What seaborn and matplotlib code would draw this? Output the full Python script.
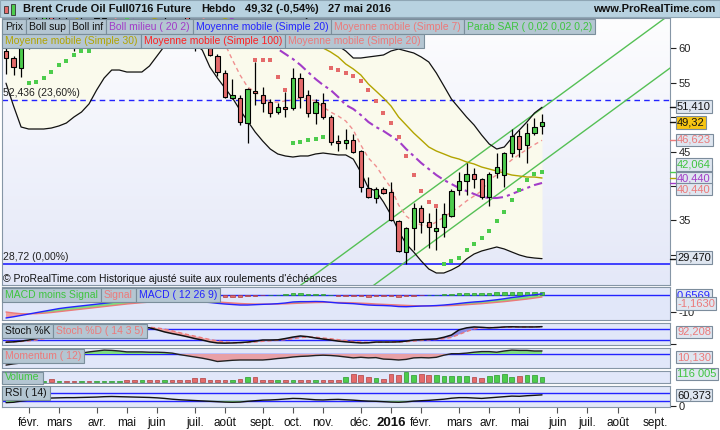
import numpy as np
import pandas as pd
import matplotlib
matplotlib.use('Agg')
import matplotlib.pyplot as plt
import matplotlib.transforms as mtransforms
import seaborn as sns
from matplotlib.patches import Rectangle
from matplotlib.colors import LinearSegmentedColormap

# ---- data (weekly bars) ----
first_week = '2015-01-12'

opens = [59.60, 58.55, 57.06, 60.20, 63.80, 62.50, 65.20, 63.00, 63.90, 61.50,
         61.00, 62.70, 61.40, 64.30, 67.00, 68.30, 71.30, 70.20, 68.80, 70.60,
         67.00, 65.80, 67.20, 66.40, 65.00, 62.80, 62.00, 60.00, 58.84, 56.38,
         52.75, 52.75, 49.13, 53.70, 53.19, 52.17, 50.72, 51.45, 51.30, 55.65,
         53.19, 50.58, 52.03, 50.00, 46.45, 46.23, 46.67, 45.07, 39.71, 38.26,
         39.57, 39.13, 34.93, 30.43, 33.91, 36.81, 34.78, 33.48, 34.06, 35.65,
         39.42, 40.72, 41.74, 41.01, 38.41, 41.88, 41.59, 44.78, 47.25, 45.94,
         47.68, 48.75]
highs = [60.60, 58.84, 61.20, 64.50, 66.00, 66.50, 67.00, 65.00, 64.50, 62.80,
         64.50, 63.50, 64.80, 68.00, 69.00, 72.00, 72.50, 71.00, 71.20, 70.90,
         68.00, 67.80, 68.50, 67.20, 66.00, 64.00, 63.50, 61.20, 59.10, 56.81,
         55.51, 53.19, 54.20, 57.97, 54.35, 52.60, 52.03, 53.62, 57.10, 56.38,
         53.91, 52.61, 53.48, 50.30, 47.39, 48.26, 47.54, 45.20, 41.30, 39.86,
         39.86, 40.58, 35.00, 34.00, 37.54, 37.25, 36.09, 36.81, 37.54, 39.57,
         42.03, 43.33, 42.61, 41.20, 42.03, 44.78, 44.93, 48.26, 48.12, 49.13,
         49.86, 50.43]
lows = [56.30, 56.10, 55.80, 59.90, 61.80, 61.50, 62.00, 61.20, 60.80, 59.50,
        60.50, 60.60, 61.00, 63.50, 66.00, 67.80, 69.50, 67.50, 67.80, 66.50,
        64.80, 64.20, 65.80, 64.50, 62.00, 59.60, 60.30, 58.90, 55.94, 52.75,
        52.61, 48.84, 46.23, 51.74, 50.72, 50.00, 50.43, 50.00, 51.01, 51.30,
        50.00, 48.99, 49.71, 45.94, 45.07, 45.36, 44.78, 39.13, 38.26, 37.54,
        38.80, 34.90, 30.43, 28.72, 30.72, 33.19, 31.01, 30.72, 32.61, 35.50,
        38.70, 38.70, 39.71, 38.12, 37.10, 41.16, 39.86, 44.20, 44.20, 43.33,
        47.39, 47.54]
closes = [58.50, 57.25, 59.96, 63.80, 62.50, 65.20, 63.00, 63.90, 61.50, 61.00,
          62.70, 61.40, 64.30, 67.00, 68.30, 71.30, 70.20, 68.80, 70.60, 67.00,
          65.80, 67.20, 66.40, 65.00, 62.80, 62.00, 61.30, 59.00, 56.52, 52.90,
          53.19, 49.28, 54.06, 53.55, 52.03, 50.58, 51.45, 51.16, 55.65, 52.90,
          50.58, 52.17, 50.00, 46.38, 46.30, 46.67, 44.93, 39.86, 38.41, 39.57,
          38.99, 35.07, 30.58, 33.91, 36.81, 34.78, 34.06, 33.91, 35.94, 39.28,
          40.72, 41.74, 41.01, 38.41, 41.74, 42.75, 44.78, 47.25, 45.36, 47.68,
          48.55, 49.32]

boll_upper = [78.0, 76.0, 74.0, 72.0, 70.0, 69.0, 68.5, 68.0, 67.5, 67.0,
              66.8, 66.5, 66.8, 68.0, 70.0, 72.5, 74.0, 74.5, 75.0, 75.0,
              74.5, 74.0, 73.5, 73.0, 72.5, 72.5, 72.5, 73.0, 74.0, 75.5,
              76.5, 77.5, 77.5, 77.0, 76.0, 74.5, 72.5, 70.0, 67.5, 65.5,
              64.0, 62.8, 61.8, 61.0, 60.3, 59.57, 58.55, 58.55, 58.70, 58.84,
              58.99, 59.57, 59.86, 59.57, 59.28, 58.70, 57.97, 56.38, 54.50, 52.60,
              51.30, 50.00, 48.84, 47.39, 46.09, 45.36, 45.65, 46.96, 48.12, 49.28,
              50.58, 51.41]
boll_lower = [54.90, 51.60, 48.55, 48.26, 48.26, 48.26, 48.40, 48.70, 49.13, 50.00,
              50.72, 51.90, 53.90, 55.65, 56.81, 56.81, 56.52, 56.52, 56.52, 57.39,
              58.84, 60.30, 61.20, 61.80, 61.50, 60.60, 59.70, 57.25, 55.65, 54.20,
              52.75, 51.00, 49.42, 47.83, 46.52, 45.36, 44.64, 44.35, 44.20, 44.35,
              44.35, 44.64, 44.78, 44.64, 44.50, 44.50, 43.90, 42.00, 39.71, 39.28,
              37.68, 35.80, 33.48, 31.60, 30.43, 29.13, 27.97, 27.39, 27.39, 27.83,
              28.41, 29.42, 30.14, 30.58, 30.87, 31.16, 30.87, 30.43, 30.00, 29.70,
              29.56, 29.47]
boll_middle = [72.0, 70.5, 69.0, 67.5, 66.5, 65.5, 64.5, 63.5, 62.8, 62.2,
               61.8, 61.5, 61.5, 61.8, 62.2, 62.8, 63.5, 64.2, 64.8, 65.3,
               65.8, 66.2, 66.6, 66.9, 67.1, 67.0, 66.8, 66.3, 65.7, 65.0,
               64.2, 63.4, 62.6, 61.8, 61.1, 60.5, 59.86, 59.13, 58.41, 57.54,
               56.52, 55.51, 54.64, 53.91, 52.90, 51.74, 51.16, 50.29, 49.28, 48.55,
               47.97, 47.25, 46.52, 45.36, 44.35, 43.33, 42.46, 41.59, 40.87, 40.29,
               39.71, 39.28, 38.84, 38.41, 38.26, 38.26, 38.41, 38.84, 39.28, 39.71,
               40.14, 40.44]
sma7 = [66.0, 63.5, 61.5, 61.0, 60.8, 61.2, 62.0, 62.8, 63.0, 62.8,
        62.6, 62.2, 62.1, 62.6, 63.5, 65.0, 66.5, 67.8, 68.7, 69.3,
        69.0, 68.5, 68.0, 67.0, 66.4, 65.4, 64.5, 63.2, 61.8, 60.6,
        58.26, 56.09, 54.35, 53.62, 52.90, 52.17, 52.17, 52.32, 52.46, 52.75,
        52.61, 52.32, 51.45, 50.72, 50.14, 49.42, 48.12, 45.94, 44.06, 42.90,
        41.30, 39.71, 37.25, 35.65, 34.78, 34.35, 34.20, 34.78, 35.50, 36.23,
        36.96, 37.83, 38.55, 39.28, 40.90, 41.60, 42.90, 43.80, 44.60, 45.30,
        46.00, 46.623]
sma30 = [78.0, 76.0, 74.0, 72.0, 70.5, 69.0, 67.8, 66.6, 65.5, 64.6,
         63.8, 63.2, 62.8, 62.5, 62.4, 62.5, 62.8, 63.2, 63.6, 64.0,
         64.4, 64.7, 65.0, 65.2, 65.3, 65.3, 65.2, 65.0, 64.7, 64.3,
         63.8, 63.3, 62.8, 62.3, 61.9, 61.5, 61.2, 61.0, 60.8, 60.6,
         60.4, 60.2, 60.0, 59.42, 58.70, 57.68, 56.96, 56.09, 54.78, 53.77,
         52.75, 51.59, 50.00, 48.84, 47.68, 46.67, 45.65, 45.07, 44.64, 44.20,
         43.91, 43.48, 43.19, 42.75, 42.46, 42.17, 41.88, 41.59, 41.45, 41.30,
         41.30, 41.16]
sar = [62.5, 62.0, 61.6, 54.93, 55.07, 55.65, 56.52, 57.54, 58.12, 58.99,
       59.57, 59.57, 60.5, 61.0, 62.0, 63.2, 64.5, 65.6, 66.4, 72.5,
       72.4, 72.2, 72.0, 71.6, 71.2, 70.6, 69.6, 68.4, 66.8, 65.0,
       63.3, 61.8, 60.4, 58.26, 58.26, 58.26, 55.8, 53.91, 46.23, 46.38,
       46.67, 46.8, 47.1, 57.1, 56.8, 56.4, 55.9, 55.2, 53.9, 52.3,
       50.58, 49.13, 47.1, 44.35, 41.6, 39.28, 37.68, 37.1, 28.72, 29.2,
       29.6, 30.7, 31.6, 32.5, 33.5, 34.9, 36.2, 38.0, 39.4, 40.8,
       41.8, 42.064]

fib_0 = 28.72
fib_236 = 52.436
channel_up_weeks = [38, 89]
channel_up = [24.80, 65.71]
channel_low_weeks = [48, 89]
channel_low = [25.05, 57.93]

macd = [-13.5, -12.8, -12.0, -11.2, -10.4, -9.6, -8.8, -8.0, -7.4, -6.9,
        -6.4, -5.9, -5.4, -4.9, -4.4, -3.9, -3.5, -3.2, -3.0, -2.9,
        -3.0, -3.1, -3.3, -3.5, -3.7, -3.9, -4.1, -4.4, -4.9, -5.3,
        -5.6, -5.9, -5.9, -5.7, -5.5, -5.35, -5.1, -4.7, -4.1, -3.9,
        -3.9, -3.8, -3.9, -4.3, -4.7, -4.9, -5.1, -5.5, -5.9, -6.1,
        -6.2, -6.4, -6.8, -6.9, -6.7, -6.5, -6.4, -6.2, -5.9, -5.5,
        -5.0, -4.5, -4.1, -3.8, -3.3, -2.8, -2.2, -1.5, -1.0, -0.4,
        0.1, 0.6569]
macd_signal = [-10.0, -10.6, -11.0, -11.1, -11.0, -10.7, -10.3, -9.8, -9.3, -8.8,
               -8.3, -7.8, -7.3, -6.8, -6.3, -5.8, -5.3, -4.9, -4.5, -4.2,
               -3.9, -3.7, -3.6, -3.5, -3.5, -3.6, -3.7, -3.9, -4.1, -4.4,
               -4.7, -5.0, -5.2, -5.3, -5.35, -5.35, -5.3, -5.2, -5.0, -4.8,
               -4.6, -4.45, -4.35, -4.35, -4.4, -4.5, -4.6, -4.8, -5.0, -5.3,
               -5.5, -5.7, -5.9, -6.1, -6.3, -6.4, -6.4, -6.4, -6.3, -6.2,
               -6.0, -5.7, -5.4, -5.1, -4.7, -4.3, -3.9, -3.4, -2.9, -2.4,
               -1.8, -1.163]
stoch_k = [8, 10, 14, 20, 28, 38, 46, 52, 56, 58,
           62, 66, 70, 76, 82, 86, 88, 90, 90, 86,
           76, 64, 55, 47, 38, 28, 20, 10, 4, 3,
           4, 6, 9, 14, 20, 20, 21, 28, 36, 42,
           38, 31, 25, 20, 14, 10, 7, 4, 5, 9,
           9, 9, 10, 14, 20, 22, 24, 26, 35, 47,
           75, 86, 91, 89, 86, 88, 91, 92, 91, 91,
           91, 92.5]
stoch_d = [12, 11, 12, 15, 20, 27, 35, 42, 48, 53,
           57, 60, 64, 68, 73, 78, 82, 86, 88, 89,
           86, 79, 70, 60, 50, 41, 32, 23, 15, 9,
           6, 5, 6, 9, 13, 16, 19, 22, 27, 33,
           36, 35, 31, 27, 22, 17, 12, 9, 7, 7,
           8, 9, 9, 11, 14, 18, 21, 23, 27, 34,
           50, 66, 80, 87, 88, 88, 89, 90, 91, 91,
           91, 92.208]
momentum = [-37, -33, -30, -27, -23, -17, -13, -10, -3, 0,
            3, 7, 10, 13, 12, 10, 7, 7, 7, 6,
            6, 5, 3, -2, -6, -10, -14, -19, -25, -23,
            -21, -20, -20, -20, -20, -18, -15, -13, -10, -8,
            -7, -5, -4, -5, -7, -10, -13, -11, -13, -12,
            -17, -18, -20, -18, -13, -12, -13, -11, -4, 1,
            1, 3, 6, 8, 8, 6, 10, 13, 12, 12,
            10, 10.13]
volume = [15000, 15000, 18000, 16000, 20000, 22000, 72000, 20000, 25000, 22000,
          25000, 27000, 27000, 27000, 30000, 32000, 45000, 46000, 44000, 46000,
          35000, 36000, 34000, 36000, 37000, 89000, 88000, 55000, 54000, 56000,
          55000, 62000, 126000, 118000, 47000, 45000, 46000, 44000, 47000, 45000,
          46000, 45000, 47000, 46000, 48000, 117000, 197000, 180000, 135000, 90000,
          62000, 197000, 170000, 270000, 170000, 197000, 170000, 170000, 143000, 143000,
          143000, 143000, 116000, 90000, 143000, 170000, 197000, 116000, 143000, 170000,
          170000, 116005]
rsi = [20, 22, 28, 33, 38, 41, 44, 45, 46, 46,
       47, 48, 49, 51, 52, 51, 50, 49, 48, 47,
       45, 42, 38, 35, 33, 31, 29, 27, 25, 23,
       22, 23, 27, 30, 33, 34, 36, 39, 42, 41,
       38, 35, 34, 36, 37, 35, 33, 30, 28, 27,
       25, 23, 22, 24, 28, 30, 32, 35, 38, 43,
       46, 46, 44, 42, 45, 48, 51, 54, 53, 56,
       58, 60.373]

month_labels = ['févr.', 'mars', 'avr.', 'mai', 'juin', 'juil.', 'août', 'sept.',
                'oct.', 'nov.', 'déc.', '2016', 'févr.', 'mars', 'avr.', 'mai',
                'juin', 'juil.', 'août', 'sept.']

# ---- styling ----
sns.set_theme(style='white')
plt.rcParams['font.family'] = ['Liberation Sans', 'DejaVu Sans']

GREEN = '#4ccc4c'
RED = '#e46a6a'
SALMON = '#ec7a7a'
BLUE = '#2323ff'
PURPLE = '#a23cc8'
OLIVE = '#b2a400'
PANEL_BG = '#e1e7f9'
SPINE = '#8696a6'
BOX_FC = '#b4c6d2'
BOX_EC = '#7a8e9b'

W, H = 720, 430
XMIN, XMAX = -0.53, 87.95

o, h, l, c = (np.array(a, dtype=float) for a in (opens, highs, lows, closes))
idx = np.arange(len(c))
up = c >= o


def fx(x):
    return x / W


def fy(y):
    return 1 - y / H


fig = plt.figure(figsize=(W / 100, H / 100), dpi=100, facecolor='white')


def panel(y0, y1, bg=PANEL_BG):
    a = fig.add_axes([fx(2), fy(y1), fx(670) - fx(2), (y1 - y0) / H])
    a.set_facecolor(bg)
    a.set_xlim(XMIN, XMAX)
    for s in a.spines.values():
        s.set_color(SPINE)
        s.set_linewidth(0.8)
    a.tick_params(axis='x', bottom=False, labelbottom=False)
    a.yaxis.tick_right()
    a.tick_params(axis='y', labelsize=8, length=4, width=0.8, pad=2,
                  colors='#222222', direction='out')
    return a


def fr(v, d):
    return f'{v:.{d}f}'.replace('.', ',')


# ---- main price panel ----
ax = panel(18, 285)
ylo, yhi = 25.65, 64.35
bg = LinearSegmentedColormap.from_list('bg', ['#fdfdfe', '#e4e8f8'])
ax.imshow(np.linspace(0, 1, 200).reshape(-1, 1), cmap=bg, aspect='auto',
          extent=(XMIN, XMAX, ylo, yhi), origin='upper', zorder=0)
ax.fill_between(idx, boll_lower, boll_upper, color='#fafaec', lw=0, zorder=1)

ax.axhline(fib_236, color=BLUE, lw=1.0, linestyle=(0, (4, 3)), zorder=2)
ax.axhline(fib_0, color=BLUE, lw=1.2, zorder=2)
ax.text(-0.35, fib_236 + 0.3, fr(fib_236, 3) + ' (23,60%)', fontsize=7.5,
        color='#222222', va='bottom', zorder=7)
ax.text(-0.35, fib_0 + 0.3, fr(fib_0, 2) + ' (0,00%)', fontsize=7.5,
        color='#222222', va='bottom', zorder=7)

sns.lineplot(x=channel_up_weeks, y=channel_up, ax=ax, color='#55c055', linewidth=1.0, zorder=2)
sns.lineplot(x=channel_low_weeks, y=channel_low, ax=ax, color='#55c055', linewidth=1.0, zorder=2)

sns.lineplot(x=idx, y=boll_upper, ax=ax, color='#111111', linewidth=0.9, zorder=3)
sns.lineplot(x=idx, y=boll_lower, ax=ax, color='#111111', linewidth=0.9, zorder=3)
sns.lineplot(x=idx, y=sma30, ax=ax, color=OLIVE, linewidth=1.0, zorder=3)
sns.lineplot(x=idx, y=boll_middle, ax=ax, color=PURPLE, linewidth=1.5,
             linestyle=(0, (5, 2, 1.5, 2)), zorder=3)
sns.lineplot(x=idx, y=sma7, ax=ax, color='#f09090', linewidth=1.0,
             linestyle=(0, (3, 2.5)), zorder=3)

sar_a = np.array(sar)
below = sar_a < c
sns.scatterplot(x=idx[below], y=sar_a[below], ax=ax, color=GREEN, marker='s',
                s=11, linewidth=0, zorder=4)
sns.scatterplot(x=idx[~below], y=sar_a[~below], ax=ax, color=RED, marker='s',
                s=11, linewidth=0, zorder=4)

ax.vlines(idx, l, h, color='black', lw=0.9, zorder=5)
ax.bar(idx, np.maximum(np.abs(c - o), 0.07), bottom=np.minimum(o, c), width=0.56,
       color=np.where(up, GREEN, RED), edgecolor='black', linewidth=0.8, zorder=6)

ax.set_xlim(XMIN, XMAX)
ax.set_ylim(ylo, yhi)
# 30, 40 and 50 sit under the value boxes, so only their tick marks are drawn
ax.set_yticks([30, 35, 40, 45, 50, 55, 60])
ax.set_yticklabels(['', '35', '', '45', '', '55', '60'])

# ---- MACD ----
ax_m = panel(287, 320)
mc, ms = np.array(macd), np.array(macd_signal)
ax_m.axhline(0, color=BLUE, lw=1.0, zorder=1)
ax_m.fill_between(idx, mc, ms, where=mc >= ms, interpolate=True, color='#7fdc7f', lw=0, zorder=2)
ax_m.fill_between(idx, mc, ms, where=mc < ms, interpolate=True, color='#f2a0a0', lw=0, zorder=2)
hist = mc - ms
ax_m.bar(idx, hist, width=0.6, color=np.where(hist >= 0, GREEN, RED),
         edgecolor=np.where(hist >= 0, '#2a9a2a', '#b04040'), linewidth=0.5, zorder=3)
sns.lineplot(x=idx, y=ms, ax=ax_m, color=SALMON, linewidth=1.0, zorder=4)
sns.lineplot(x=idx, y=mc, ax=ax_m, color=BLUE, linewidth=1.0, zorder=4)
ax_m.set_xlim(XMIN, XMAX)
ax_m.set_ylim(-14.7, 4.7)
ax_m.set_yticks([-10])
ax_m.set_yticklabels(['-10'])

# ---- Stochastic ----
ax_s = panel(323, 345)
sk, sd = np.array(stoch_k, float), np.array(stoch_d, float)
ax_s.axhline(80, color=BLUE, lw=1.0, zorder=1)
ax_s.axhline(20, color=BLUE, lw=1.0, zorder=1)
ax_s.fill_between(idx, sk, sd, where=sk >= sd, interpolate=True, color='#8c8ce6', lw=0, zorder=2)
ax_s.fill_between(idx, sk, sd, where=sk < sd, interpolate=True, color='#f0a4a4', lw=0, zorder=2)
sns.lineplot(x=idx, y=sd, ax=ax_s, color=SALMON, linewidth=1.0, linestyle=(0, (3, 2)), zorder=3)
sns.lineplot(x=idx, y=sk, ax=ax_s, color='#111111', linewidth=1.1, zorder=4)
ax_s.set_xlim(XMIN, XMAX)
ax_s.set_ylim(-7.1, 112.5)
ax_s.set_yticks([0])
ax_s.set_yticklabels([''])

# ---- Momentum ----
ax_p = panel(348, 368)
mo = np.array(momentum, float)
ax_p.axhline(0, color=BLUE, lw=1.0, zorder=1)
ax_p.fill_between(idx, mo, 0, where=mo >= 0, interpolate=True, color='#7fdc7f', lw=0, zorder=2)
ax_p.fill_between(idx, mo, 0, where=mo < 0, interpolate=True, color='#e8a0a6', lw=0, zorder=2)
sns.lineplot(x=idx, y=mo, ax=ax_p, color='#222222', linewidth=1.0, zorder=3)
ax_p.set_xlim(XMIN, XMAX)
ax_p.set_ylim(-46.7, 20)
ax_p.set_yticks([])

# ---- Volume ----
ax_v = panel(371, 383)
ax_v.bar(idx, volume, width=0.62, color=np.where(up, GREEN, RED),
         edgecolor=np.where(up, '#2a9a2a', '#b04040'), linewidth=0.5, zorder=2)
ax_v.set_xlim(XMIN, XMAX)
ax_v.set_ylim(-35100, 288900)
ax_v.set_yticks([])

# ---- RSI ----
ax_r = panel(386, 407)
rs = np.array(rsi, float)
ax_r.axhline(70, color=BLUE, lw=1.0, zorder=1)
ax_r.axhline(30, color=BLUE, lw=1.0, zorder=1)
ax_r.fill_between(idx, rs, 30, where=rs < 30, interpolate=True, color='#7fdc7f', lw=0, zorder=2)
ax_r.fill_between(idx, rs, 70, where=rs > 70, interpolate=True, color='#f0a4a4', lw=0, zorder=2)
sns.lineplot(x=idx, y=rs, ax=ax_r, color='#111111', linewidth=1.0, zorder=3)
ax_r.set_xlim(XMIN, XMAX)
ax_r.set_ylim(-2.6, 106.5)
ax_r.set_yticks([0])
ax_r.set_yticklabels(['0'])

weeks = pd.date_range(first_week, periods=88, freq='W-MON')
tick_pos = np.where(weeks.day <= 7)[0]
ax_r.set_xticks(tick_pos)
ax_r.tick_params(axis='x', bottom=True, labelbottom=True, length=4, width=0.8,
                 color='#555555', direction='out', pad=3)
labs = ax_r.set_xticklabels(month_labels, fontsize=8.5, color='#111111')
for lab in labs:
    if lab.get_text() == '2016':
        lab.set_fontweight('bold')
        lab.set_fontsize(9.5)

for a in (ax, ax_m, ax_s, ax_p, ax_v, ax_r):
    a.set_xlabel('')
    a.set_ylabel('')

# ---- title bar ----
fig.add_artist(Rectangle((0, fy(17)), 1, 17 / H, transform=fig.transFigure,
                         fc='#b8d2e0', ec='#8fa6b4', lw=0.8, zorder=1))
fig.add_artist(Rectangle((fx(4), fy(13)), 4 / W, 7 / H, transform=fig.transFigure,
                         fc=RED, ec='#333333', lw=0.6, zorder=2))
fig.add_artist(Rectangle((fx(10.5), fy(15)), 4 / W, 11 / H, transform=fig.transFigure,
                         fc=GREEN, ec='#333333', lw=0.6, zorder=2))
for xp, s in [(23, 'Brent Crude Oil Full0716 Future'), (201, 'Hebdo'),
              (245, fr(closes[-1], 2) + ' (-0,54%)'), (328, '27 mai 2016')]:
    fig.text(fx(xp), fy(9), s, fontsize=8, fontweight='bold', color='#111111',
             va='center', ha='left', zorder=3)
fig.text(fx(715), fy(9), 'www.ProRealTime.com', fontsize=8, fontweight='bold',
         color='#111111', va='center', ha='right', zorder=3)

fig.text(fx(3), fy(279), '© ProRealTime.com Historique ajusté suite aux roulements d\'échéances',
         fontsize=7.5, color='#111111', va='center', ha='left', zorder=3)

# ---- legend boxes ----
renderer = fig.canvas.get_renderer()


def box_row(x_px, yc, hh, items, fs=7.5):
    for label, col in items:
        t = fig.text(fx(x_px + 3), fy(yc), label, color=col, fontsize=fs,
                     va='center', ha='left', zorder=6)
        w = t.get_window_extent(renderer).width
        fig.add_artist(Rectangle((fx(x_px), fy(yc + hh / 2)), (w + 6) / W, hh / H,
                                 transform=fig.transFigure, fc=BOX_FC, ec=BOX_EC,
                                 lw=0.8, zorder=5))
        x_px += w + 6


box_row(2, 26.5, 14.5, [('Prix', '#111111'), ('Boll sup', '#111111'), ('Boll inf', '#111111'),
                        ('Boll milieu ( 20 2)', PURPLE), ('Moyenne mobile (Simple 20)', BLUE),
                        ('Moyenne mobile (Simple 7)', SALMON),
                        ('Parab SAR ( 0,02 0,02 0,2)', '#3ec43e')])
box_row(2, 41, 14.5, [('Moyenne mobile (Simple 30)', OLIVE),
                      ('Moyenne mobile (Simple 100)', '#ff2020'),
                      ('Moyenne mobile (Simple 20)', SALMON)])
box_row(2, 295, 14, [('MACD moins Signal', '#3ec43e'), ('Signal', SALMON),
                     ('MACD ( 12 26 9)', BLUE)])
box_row(2, 330.5, 14, [('Stoch %K', '#111111'), ('Stoch %D ( 14 3 5)', SALMON)])
box_row(2, 356, 14, [('Momentum ( 12)', SALMON)])
box_row(2, 377.5, 12, [('Volume', '#3ec43e')])
box_row(2, 393, 14, [('RSI ( 14)', '#111111')])

# ---- value marks and boxes on the right axis ----
trans = mtransforms.blended_transform_factory(ax.transAxes, ax.transData)
for v, col in [(boll_upper[-1], '#111111'), (closes[-1], '#111111'), (sma7[-1], SALMON),
               (sar[-1], GREEN), (sma30[-1], OLIVE), (boll_middle[-1], PURPLE),
               (boll_lower[-1], '#111111')]:
    ax.plot([1.0, 1.012], [v, v], transform=trans, clip_on=False, color=col, lw=1.0, zorder=8)


def value_box(yc, text, col, fc='#dfe6f0'):
    fig.text(fx(677), fy(yc), text, color=col, fontsize=8, va='center', ha='left', zorder=8,
             bbox=dict(boxstyle='square,pad=0.13', fc=fc, ec='#7c8c9c', lw=0.8))


value_box(106.5, fr(boll_upper[-1], 3), '#111111')
value_box(122.5, fr(closes[-1], 2), '#111111', fc='#f6c412')
value_box(140, fr(sma7[-1], 3), SALMON)
value_box(171, fr(sma30[-1], 3), OLIVE)
value_box(164.5, fr(sar[-1], 3), '#3ec43e')
value_box(178.5, fr(boll_middle[-1], 3), PURPLE)
value_box(189, fr(boll_middle[-1], 3), SALMON)
value_box(257.5, fr(boll_lower[-1], 3), '#111111')
value_box(295.5, fr(macd[-1], 4), BLUE)
value_box(303.5, fr(macd_signal[-1], 4), SALMON)
value_box(332, fr(stoch_d[-1], 3), SALMON)
value_box(357, fr(momentum[-1], 3), SALMON)
value_box(374, f'{volume[-1]:,}'.replace(',', ' '), '#3ec43e')
value_box(395, fr(rsi[-1], 3), '#111111')

fig.savefig('out.png', dpi=100, facecolor='white')
